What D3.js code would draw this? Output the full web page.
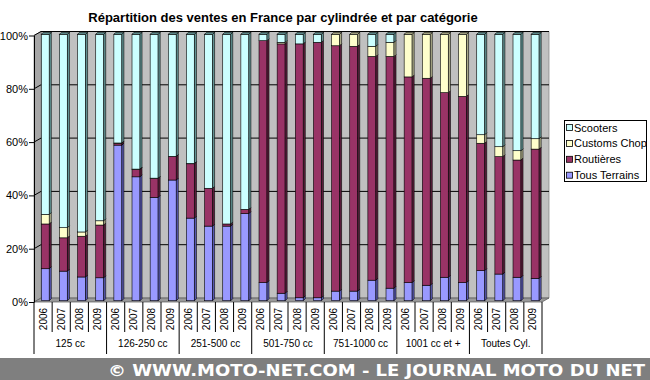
<!DOCTYPE html>
<html><head><meta charset="utf-8">
<script src="https://cdn.jsdelivr.net/npm/d3@7"></script>
<style>body{margin:0;background:#fff}svg{display:block;font-family:"Liberation Sans",Arial,sans-serif}</style>
</head><body><svg id="c" width="650" height="380"></svg>
<script>
const groups = ["125 cc","126-250 cc","251-500 cc","501-750 cc","751-1000 cc","1001 cc et +","Toutes Cyl."];
const years = ["2006","2007","2008","2009"];
const seriesNames = ["Tous Terrains","Routières","Customs Chop","Scooters"];
const tousTerrains = [12.0,11.1,8.9,8.6, 58.4,46.5,38.8,45.3, 31.0,28.0,28.0,32.7, 6.8,2.8,1.1,1.1, 3.6,3.6,7.7,4.7, 6.8,5.8,8.8,6.8, 11.3,10.0,8.8,8.4];
const routieres   = [16.8,12.5,15.3,19.8, 0.7,2.8,7.1,8.8, 20.4,14.2,0.8,1.6, 90.8,93.6,95.3,95.9, 92.1,91.9,84.0,87.0, 77.2,77.7,69.3,69.9, 47.8,44.1,44.0,48.5];
const customs     = [3.6,3.8,1.6,1.6, 0.1,0.1,0.1,0.1, 0.1,0,0,0, 0,0.6,0,0, 4.3,4.5,3.8,5.3, 16.0,16.5,21.9,23.3, 3.2,3.7,3.5,3.9];
const scooters    = [67.6,72.6,74.2,70.0, 40.8,50.6,54.0,45.8, 48.5,57.8,71.2,65.7, 2.4,3.0,3.6,3.0, 0,0,4.5,3.0, 0,0,0,0, 37.7,42.2,43.7,39.2];
const yTicks = [0,0.2,0.4,0.6,0.8,1];

const colors = {"Tous Terrains":"#9999ff","Routières":"#993366","Customs Chop":"#ffffcc","Scooters":"#ccffff"};
const sideColors = {"Tous Terrains":"#5c5cb8","Routières":"#5c1f3d","Customs Chop":"#b3b38f","Scooters":"#669999"};

const svg = d3.select("#c");

const rows = [];
groups.forEach((g,gi)=>years.forEach((y,yi)=>{
  const i = gi*4+yi;
  rows.push({key:g+"|"+y, group:g, year:y,
    "Tous Terrains":tousTerrains[i], "Routières":routieres[i], "Customs Chop":customs[i], "Scooters":scooters[i]});
}));
const stacked = d3.stack().keys(seriesNames).offset(d3.stackOffsetExpand)(rows);

const x = d3.scaleBand().domain(rows.map(r=>r.key)).range([34,542]).padding(0);
const yAxisS = d3.scaleLinear().domain([0,1]).range([302,35.5]);
const yBar = d3.scaleLinear().domain([0,1]).range([300.7,34.3]);
const DX = 7, DY = -4;
const x0 = 34, x1 = 542;

svg.append("text").attr("x",283).attr("y",22).attr("text-anchor","middle")
  .attr("font-size",13).attr("font-weight","bold")
  .text("Répartition des ventes en France par cylindrée et par catégorie");

const pts = a=>a.map(p=>p.join(",")).join(" ");
svg.append("polygon").attr("points",pts([[x0+DX,yAxisS(0)+DY],[x1+DX,yAxisS(0)+DY],[x1+DX,yAxisS(1)+DY],[x0+DX,yAxisS(1)+DY]]))
  .attr("fill","#c0c0c0").attr("stroke","#808080").attr("stroke-width",0.7);
svg.append("polygon").attr("points",pts([[x0,yAxisS(0)],[x0,yAxisS(1)],[x0+DX,yAxisS(1)+DY],[x0+DX,yAxisS(0)+DY]]))
  .attr("fill","#a6a6a6").attr("stroke","#808080").attr("stroke-width",0.7);
svg.append("polygon").attr("points",pts([[x0,yAxisS(0)],[x1,yAxisS(0)],[x1+DX,yAxisS(0)+DY],[x0+DX,yAxisS(0)+DY]]))
  .attr("fill","#999999").attr("stroke","#555").attr("stroke-width",0.7);

const grid = svg.append("g");
yTicks.filter(t=>t>0).forEach(t=>{
  grid.append("polyline").attr("points",pts([[x0,yAxisS(t)],[x0+DX,yAxisS(t)+DY],[x1+DX,yAxisS(t)+DY]]))
    .attr("fill","none").attr("stroke","#000").attr("stroke-width",1);
});

const yAxis = d3.axisLeft(yAxisS).tickValues(yTicks).tickFormat(d3.format(".0%")).tickSize(5).tickSizeOuter(0);
const ya = svg.append("g").attr("transform","translate(34,0)").call(yAxis);
ya.selectAll("text").attr("font-size",11).attr("font-family","Liberation Sans, Arial, sans-serif").attr("fill","#000").attr("x",-6);
ya.selectAll("line").attr("stroke","#000");
ya.select(".domain").attr("stroke","#000");

const bw = 8, off = 7.3, d = 2;
const bars = svg.append("g");
stacked.forEach((layer)=>{
  const name = layer.key;
  layer.forEach((seg,i)=>{
    const h = seg[1]-seg[0];
    if (h <= 0) return;
    const bx = x(rows[i].key)+off;
    const yt = yBar(seg[1]), yb = yBar(seg[0]);
    bars.append("rect").attr("x",bx).attr("y",yt).attr("width",bw).attr("height",yb-yt)
      .attr("fill",colors[name]).attr("stroke","#000").attr("stroke-width",0.6);
    bars.append("polygon").attr("points",pts([[bx+bw,yb],[bx+bw,yt],[bx+bw+d,yt-d],[bx+bw+d,yb-d]]))
      .attr("fill",sideColors[name]).attr("stroke","#000").attr("stroke-width",0.6);
    if (seg[1] >= 0.999) {
      bars.append("polygon").attr("points",pts([[bx,yt],[bx+d,yt-d],[bx+bw+d,yt-d],[bx+bw,yt]]))
        .attr("fill",sideColors[name]).attr("stroke","#000").attr("stroke-width",0.6);
    }
  });
});

const xa = svg.append("g");
rows.forEach((r,i)=>{
  const bx = x(r.key);
  xa.append("line").attr("x1",bx).attr("x2",bx).attr("y1",302).attr("y2", i%4===0 ? 354 : 332)
    .attr("stroke","#000").attr("stroke-width",1);
  xa.append("text").attr("transform",`translate(${bx+x.bandwidth()/2+3.5},319) rotate(-90)`)
    .attr("text-anchor","middle").attr("font-size",10).text(r.year);
});
xa.append("line").attr("x1",x1).attr("x2",x1).attr("y1",302).attr("y2",354).attr("stroke","#000");
groups.forEach((g,gi)=>{
  const gx = x(rows[gi*4].key) + x.bandwidth()*2;
  xa.append("text").attr("x",gx).attr("y",347).attr("text-anchor","middle").attr("font-size",10).text(g);
});

const lg = svg.append("g");
lg.append("rect").attr("x",564.5).attr("y",120.5).attr("width",82).attr("height",61)
  .attr("fill","#fff").attr("stroke","#000").attr("stroke-width",1);
seriesNames.slice().reverse().forEach((s,i)=>{
  const cy = 127.5 + i*15.9;
  lg.append("rect").attr("x",566.5).attr("y",cy-3).attr("width",6).attr("height",6)
    .attr("fill",colors[s]).attr("stroke","#000").attr("stroke-width",0.8);
  lg.append("text").attr("x",574).attr("y",cy+4).attr("font-size",11).text(s);
});

svg.append("rect").attr("x",0).attr("y",358).attr("width",650).attr("height",22).attr("fill","#7f7f7f");
svg.append("text").attr("x",108).attr("y",376).attr("font-size",16).attr("font-weight","bold")
  .attr("font-family","DejaVu Sans, Verdana, sans-serif").attr("fill","#fff")
  .attr("textLength",537).attr("lengthAdjust","spacingAndGlyphs")
  .text("© WWW.MOTO-NET.COM - LE JOURNAL MOTO DU NET");
</script></body></html>
